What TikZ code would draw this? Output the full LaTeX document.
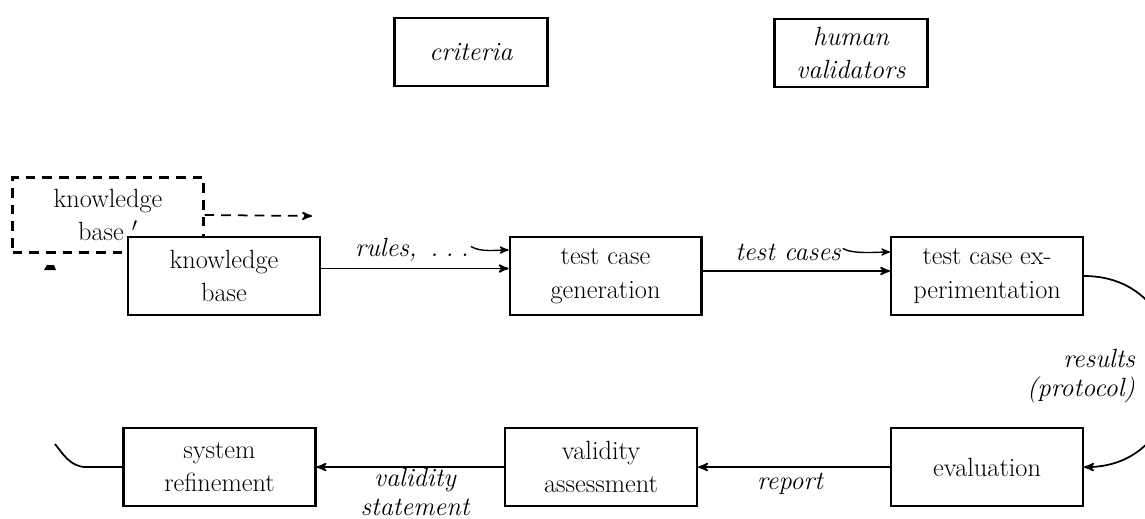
\documentclass[tikz,border=0pt]{standalone}
\usepackage{tikz}
\usetikzlibrary{
  positioning,
  arrows
}
\tikzset{
  >=stealth',
  node distance=3.75cm,
  every node/.style={font=\fontsize{15}{19}\selectfont},
  block/.style={draw, line width=1.2pt, fill=white, align=center,
    minimum width=3.84cm, minimum height=1.56cm, inner sep=2pt},
  topbox/.style={block, font=\fontsize{15}{19}\selectfont\itshape,
    minimum width=3.06cm, minimum height=1.36cm},
  ghost/.style={block, fill=none, dash pattern=on 5.5pt off 4pt,
    minimum width=3.82cm, minimum height=1.5cm},
  lbl/.style={font=\fontsize{15}{16.5}\selectfont\itshape, align=center, inner sep=1pt},
  flow/.style={->, line width=1pt},
  hint/.style={->, line width=0.8pt}
}

\begin{document}
\begin{tikzpicture}[x=0.02cm, y=-0.02cm]
    \useasboundingbox (0,0) rectangle (1145,518);
    \clip (0,0) rectangle (1145,518);
    % upper boxes
    \node[topbox] (crit) at (471,52) {criteria};
    \node[topbox] (human) at (851,53) {human\\validators};
    % old knowledge base
    \node[ghost] (kbold) at (108,215) {knowledge\\base $'$};
    \coordinate (kbto) at (312,216);
    \draw[flow, dash pattern=on 5.5pt off 4pt] (kbold.east) -- (kbto);
    \fill (44,270) -- (47,265) -- (54,265) -- (56,270) -- cycle;
    % main row
    \node[block] (kb) at (224,276) {knowledge\\base};
    \node[block, right=of kb] (tcg) {test case\\generation};
    \node[block, right=of tcg] (tce) {test case ex-\\perimentation};
    \node[block, below=2.22cm of tce] (eval) {evaluation};
    \node[block, left=3.84cm of eval] (va) {validity\\assessment};
    \node[block, left=of va] (sr) {system\\refinement};
    % connectors
    \draw[flow] ([yshift=0.15cm]kb.east) -- ([yshift=0.15cm]tcg.west);
    \draw[flow] ([yshift=0.1cm]tcg.east) -- ([yshift=0.1cm]tce.west);
    \draw[flow] (tce.east) .. controls +(120,0) and +(120,0) .. (eval.east);
    \draw[flow] (eval.west) -- (va.east);
    \draw[flow] (va.west) -- (sr.east);
    \coordinate (fb) at (55,444);
    \draw[line width=1pt] (sr.west) -- ++(-36,0) .. controls +(-16,0) and +(8,10) .. (fb);
    % labels
    \node[lbl] (rules) at (412,250) {rules, \,.\;.\;.};
    \draw[hint] ([yshift=2pt]rules.east) .. controls +(10,6) and +(-12,0) .. (rules.east -| tcg.west);
    \node[lbl] (cases) at (788,252) {test cases};
    \draw[hint] ([yshift=2pt]cases.east) .. controls +(10,6) and +(-12,0) .. (cases.east -| tce.west);
    \node[lbl, anchor=east, align=right] (res) at (1137,376) {results\\(protocol)};
    \node[lbl] (report) at (790,484) {report};
    \node[lbl] (stmt) at (415,492) {validity\\statement};
\end{tikzpicture}
\end{document}
